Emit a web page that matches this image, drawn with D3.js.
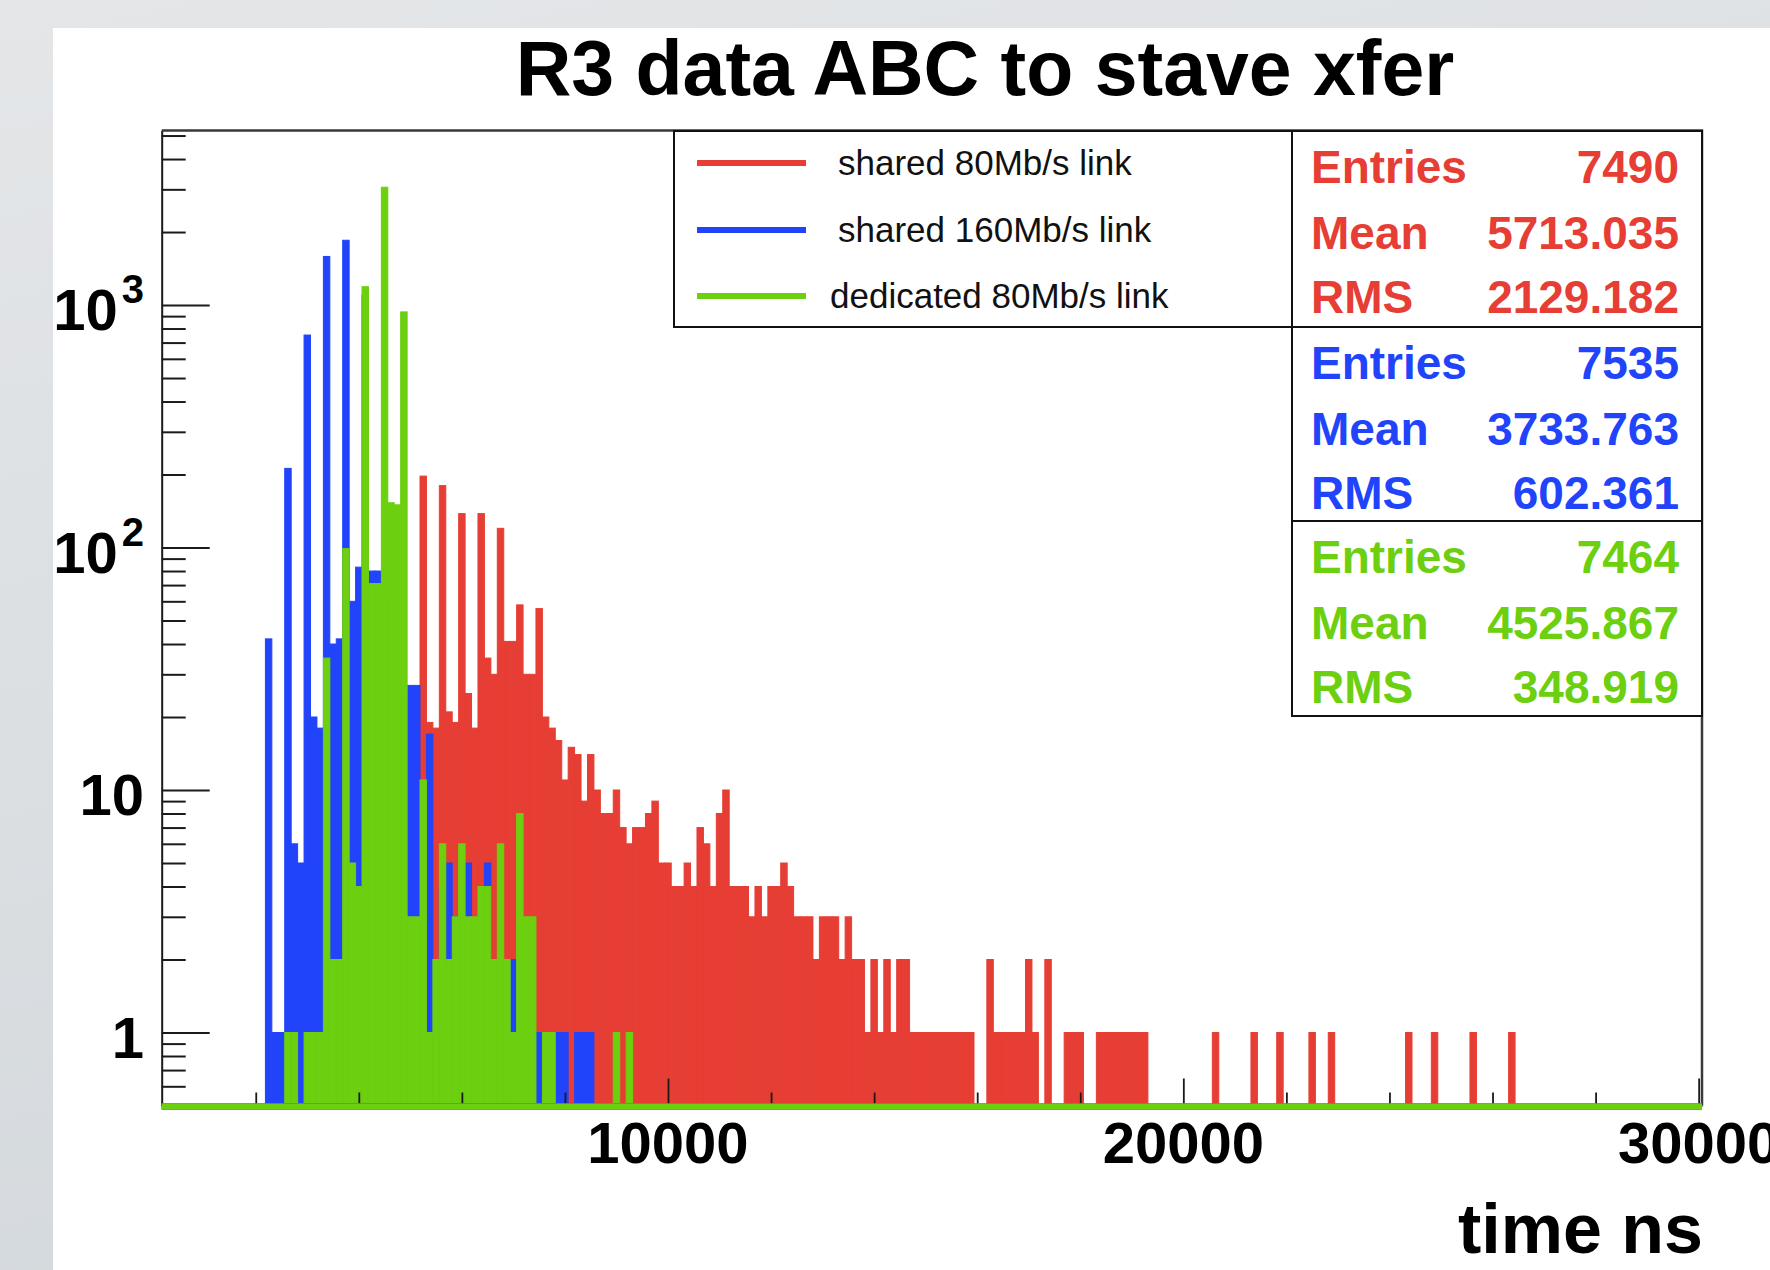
<!DOCTYPE html>
<html>
<head>
<meta charset="utf-8">
<script src="https://cdn.jsdelivr.net/npm/d3@7"></script>
<style>
html, body { margin: 0; padding: 0; overflow: hidden; background: #dde0e3; }
svg { display: block; font-family: "Liberation Sans", Arial, Helvetica, sans-serif; }
</style>
</head>
<body>
<svg id="chart" width="1770" height="1270"></svg>
<script>
// histogram contents: [bin centre in ns, entries], bins are 125 ns wide
var binWidth = 125;
var shared80 = [
    [4250, 5], [4375, 5], [4500, 5], [4750, 23], [4875, 23], [5000, 20], [5125, 18], [5250, 197],
    [5375, 19], [5500, 18], [5625, 180], [5750, 21], [5875, 19], [6000, 138], [6125, 25], [6250, 18],
    [6375, 138], [6500, 35], [6625, 30], [6750, 120], [6875, 41], [7000, 41], [7125, 58], [7250, 30],
    [7375, 30], [7500, 56], [7625, 20], [7750, 18], [7875, 16], [8000, 11], [8125, 15], [8250, 14],
    [8375, 9], [8500, 14], [8625, 10], [8750, 8], [8875, 8], [9000, 10], [9125, 7], [9250, 6],
    [9375, 7], [9500, 7], [9625, 8], [9750, 9], [9875, 5], [10000, 5], [10125, 4], [10250, 4],
    [10375, 5], [10500, 4], [10625, 7], [10750, 6], [10875, 4], [11000, 8], [11125, 10], [11250, 4],
    [11375, 4], [11500, 4], [11625, 3], [11750, 4], [11875, 3], [12000, 4], [12125, 4], [12250, 5],
    [12375, 4], [12500, 3], [12625, 3], [12750, 3], [12875, 2], [13000, 3], [13125, 3], [13250, 3],
    [13375, 2], [13500, 3], [13625, 2], [13750, 2], [13875, 1], [14000, 2], [14125, 1], [14250, 2],
    [14375, 1], [14500, 2], [14625, 2], [14750, 1], [14875, 1], [15000, 1], [15125, 1], [15250, 1],
    [15375, 1], [15500, 1], [15625, 1], [15750, 1], [15875, 1], [16250, 2], [16375, 1], [16500, 1],
    [16625, 1], [16750, 1], [16875, 1], [17000, 2], [17125, 1], [17375, 2], [17750, 1], [17875, 1],
    [18000, 1], [18375, 1], [18500, 1], [18625, 1], [18750, 1], [18875, 1], [19000, 1], [19125, 1],
    [19250, 1], [20625, 1], [21375, 1], [21875, 1], [22500, 1], [22875, 1], [24375, 1], [24875, 1],
    [25625, 1], [26375, 1]
];
var shared160 = [
    [2250, 42], [2375, 1], [2500, 1], [2625, 212], [2750, 6], [2875, 5], [3000, 752], [3125, 20],
    [3250, 18], [3375, 1586], [3500, 40], [3625, 42], [3750, 1850], [3875, 60], [4000, 83], [4125, 1100],
    [4250, 80], [4375, 80], [4500, 60], [4625, 20], [4750, 20], [4875, 25], [5000, 27], [5125, 27],
    [5250, 8], [5375, 17], [5500, 2], [5625, 4], [5750, 5], [5875, 3], [6000, 3], [6125, 5],
    [6250, 2], [6375, 3], [6500, 5], [6625, 2], [6750, 2], [6875, 1], [7000, 2], [7125, 1],
    [7500, 1], [7875, 1], [8000, 1], [8250, 1], [8375, 1], [8500, 1]
];
var dedicated80 = [
    [2625, 1], [2750, 1], [3000, 1], [3125, 1], [3250, 1], [3375, 35], [3500, 2], [3625, 2],
    [3750, 99], [3875, 5], [4000, 4], [4125, 1190], [4250, 71], [4375, 71], [4500, 3060], [4625, 153],
    [4750, 150], [4875, 937], [5000, 3], [5125, 3], [5250, 11], [5375, 1], [5500, 2], [5625, 6],
    [5750, 2], [5875, 3], [6000, 6], [6125, 3], [6250, 3], [6375, 4], [6500, 4], [6625, 2],
    [6750, 6], [6875, 2], [7000, 1], [7125, 8], [7250, 3], [7375, 3], [7625, 1], [7750, 1],
    [9000, 1], [9250, 1]
];
var seriesNames = ['shared 80Mb/s link', 'shared 160Mb/s link', 'dedicated 80Mb/s link'];
var seriesColors = ['#e63e34', '#2144fa', '#6ccf10'];
var statLabels = ['Entries', 'Mean', 'RMS'];
var statValues = [
    ['7490', '5713.035', '2129.182'],
    ['7535', '3733.763', '602.361'],
    ['7464', '4525.867', '348.919']
];
var xMajorTicks = [10000, 20000, 30000];
var xMinorTicks = [2000, 4000, 6000, 8000, 12000, 14000, 16000, 18000, 22000, 24000, 26000, 28000];
var yMajorTicks = [1, 10, 100, 1000];
var yMinorTicks = [0.6, 0.7, 0.8, 0.9, 2, 3, 4, 5, 6, 7, 8, 9, 20, 30, 40, 50, 60, 70, 80, 90,
    200, 300, 400, 500, 600, 700, 800, 900, 2000, 3000, 4000, 5000];
var titleText = 'R3 data ABC to stave xfer';
var xTitle = 'time ns';

var svg = d3.select('#chart');
var frameL = 161.7, frameR = 1702, frameT = 130.6, frameB = 1105.5;

// grey page with white pad
var grad = svg.append('defs').append('linearGradient')
    .attr('id', 'bg').attr('x1', 0).attr('y1', 0).attr('x2', 0.3).attr('y2', 1);
grad.append('stop').attr('offset', 0).attr('stop-color', '#e4e6e8');
grad.append('stop').attr('offset', 1).attr('stop-color', '#d4d9dd');
svg.append('rect').attr('width', 1770).attr('height', 1270).attr('fill', 'url(#bg)');
svg.append('rect').attr('x', 53).attr('y', 28).attr('width', 1717).attr('height', 1242).attr('fill', '#fff');

var x = d3.scaleLinear().domain([175, 30065]).range([frameL, frameR]);
var y = d3.scaleLog().domain([0.5, 5240]).range([frameB, frameT]);

function drawHist(data, color) {
    svg.append('g')
        .selectAll('rect')
        .data(data)
        .enter()
        .append('rect')
        .attr('x', function (d) { return x(d[0] - binWidth / 2); })
        .attr('width', function (d) { return x(d[0] + binWidth / 2) - x(d[0] - binWidth / 2); })
        .attr('y', function (d) { return y(d[1]); })
        .attr('height', function (d) { return y(0.5) - y(d[1]); })
        .attr('fill', color)
        .attr('stroke', color)
        .attr('stroke-width', 1);
}
drawHist(shared80, seriesColors[0]);
drawHist(shared160, seriesColors[1]);
drawHist(dedicated80, seriesColors[2]);

// axes, ROOT style ticks pointing inside the frame
function styleAxis(g, width) {
    g.selectAll('line').attr('stroke', '#1a1a1a').attr('stroke-width', width);
    g.selectAll('path').attr('stroke', '#1a1a1a').attr('stroke-width', 2);
    g.selectAll('text').remove();
}
var yAxisMajor = svg.append('g').attr('transform', 'translate(' + frameL + ',0)')
    .call(d3.axisRight(y).tickValues(yMajorTicks).tickSize(48).tickSizeOuter(0).tickFormat(''));
styleAxis(yAxisMajor, 2);
var yAxisMinor = svg.append('g').attr('transform', 'translate(' + frameL + ',0)')
    .call(d3.axisRight(y).tickValues(yMinorTicks).tickSize(24).tickSizeOuter(0).tickFormat(''));
styleAxis(yAxisMinor, 2);
yAxisMinor.select('.domain').remove();

var xAxisMajor = svg.append('g').attr('transform', 'translate(0,' + frameB + ')')
    .call(d3.axisTop(x).tickValues(xMajorTicks).tickSize(27).tickSizeOuter(0).tickFormat(''));
styleAxis(xAxisMajor, 1.8);
var xAxisMinor = svg.append('g').attr('transform', 'translate(0,' + frameB + ')')
    .call(d3.axisTop(x).tickValues(xMinorTicks).tickSize(13).tickSizeOuter(0).tickFormat(''));
styleAxis(xAxisMinor, 1.8);
xAxisMinor.select('.domain').remove();

// frame top and right
svg.append('path')
    .attr('d', 'M' + frameL + ',' + frameT + 'H' + frameR + 'V' + frameB)
    .attr('fill', 'none').attr('stroke', '#3a3a3a').attr('stroke-width', 2.5);

// histogram outlines running along the minimum of the log axis
[shared80, shared160, dedicated80].forEach(function (s, i) {
    svg.append('line')
        .attr('x1', x(175)).attr('x2', x(30065))
        .attr('y1', y(0.5) + 1).attr('y2', y(0.5) + 1)
        .attr('stroke', seriesColors[i]).attr('stroke-width', 6);
});

// y tick labels
var yLab = svg.append('g').attr('font-weight', 'bold').attr('fill', '#000');
yMajorTicks.forEach(function (v) {
    var t = yLab.append('text')
        .attr('x', 144).attr('y', y(v) + 25)
        .attr('text-anchor', 'end').attr('font-size', 58);
    if (v < 100) {
        t.text(String(v));
    } else {
        t.append('tspan').text('10');
        t.append('tspan').attr('font-size', 40).attr('dx', 4).attr('dy', -27).text(String(Math.round(Math.log10(v))));
    }
});

// x tick labels
svg.append('g').attr('font-weight', 'bold')
    .selectAll('text')
    .data(xMajorTicks)
    .enter()
    .append('text')
    .attr('x', function (d) { return x(d); })
    .attr('y', 1163)
    .attr('text-anchor', 'middle')
    .attr('font-size', 58)
    .text(function (d) { return d; });

svg.append('text')
    .attr('x', 1703).attr('y', 1253)
    .attr('text-anchor', 'end').attr('font-size', 70).attr('font-weight', 'bold')
    .text(xTitle);

svg.append('text')
    .attr('x', 985).attr('y', 95)
    .attr('text-anchor', 'middle').attr('font-size', 77).attr('font-weight', 'bold')
    .text(titleText);

// legend
var legX = 674, legY = 131, legW = 618, legH = 196;
svg.append('rect')
    .attr('x', legX).attr('y', legY).attr('width', legW).attr('height', legH)
    .attr('fill', '#fff').attr('stroke', '#111').attr('stroke-width', 2);
var legRows = [163, 230, 296];
seriesNames.forEach(function (name, i) {
    svg.append('line')
        .attr('x1', 697).attr('x2', 806)
        .attr('y1', legRows[i]).attr('y2', legRows[i])
        .attr('stroke', seriesColors[i]).attr('stroke-width', 6);
    svg.append('text')
        .attr('x', i === 2 ? 830 : 838).attr('y', legRows[i] + 12)
        .attr('font-size', 35).attr('fill', '#111')
        .text(name);
});

// stat boxes
var boxX = 1292, boxW = 410;
var boxTops = [131, 327, 521];
var boxH = [196, 194, 195];
var rowOffsets = [36, 102, 166];
statValues.forEach(function (vals, i) {
    svg.append('rect')
        .attr('x', boxX).attr('y', boxTops[i]).attr('width', boxW).attr('height', boxH[i])
        .attr('fill', '#fff').attr('stroke', '#111').attr('stroke-width', 2);
    statLabels.forEach(function (lab, j) {
        var yy = boxTops[i] + rowOffsets[j] + 16;
        svg.append('text')
            .attr('x', 1311).attr('y', yy)
            .attr('font-size', 46).attr('font-weight', 'bold').attr('fill', seriesColors[i])
            .text(lab);
        svg.append('text')
            .attr('x', 1679).attr('y', yy)
            .attr('text-anchor', 'end')
            .attr('font-size', 46).attr('font-weight', 'bold').attr('fill', seriesColors[i])
            .text(vals[j]);
    });
});
</script>
</body>
</html>
